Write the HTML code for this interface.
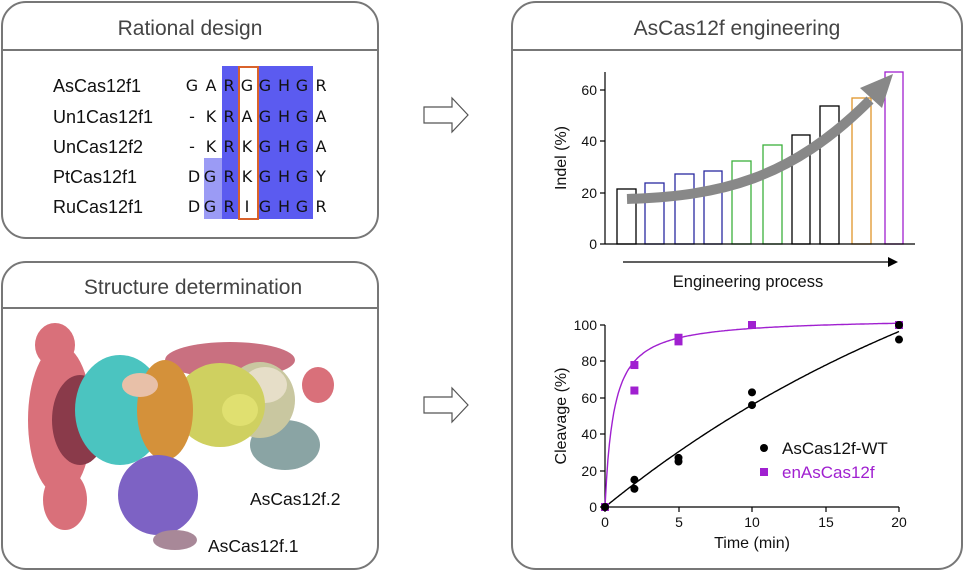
<!DOCTYPE html>
<html><head><meta charset="utf-8"><style>
html,body{margin:0;padding:0;background:#fff;}
svg{display:block;font-family:"Liberation Sans",Arial,sans-serif;}
</style></head><body>
<svg id="s" width="964" height="571" viewBox="0 0 964 571" xmlns="http://www.w3.org/2000/svg">
<!-- Panel 1 -->
<rect x="2" y="2" width="376" height="236" rx="24" fill="#fff" stroke="#777" stroke-width="2"/>
<line x1="2" y1="50" x2="378" y2="50" stroke="#777" stroke-width="2"/>
<text x="190" y="35" font-size="21" fill="#444" text-anchor="middle">Rational design</text>
<rect x="222" y="66" width="91" height="153" fill="#5b5bf0"/>
<rect x="204" y="158" width="18" height="61" fill="#9b9bf5"/>
<rect x="239" y="67" width="19" height="152" fill="#fff" stroke="#d9622b" stroke-width="2"/>
<g font-size="18" fill="#111">
<text x="53" y="92">AsCas12f1</text>
<text x="53" y="123">Un1Cas12f1</text>
<text x="53" y="153">UnCas12f2</text>
<text x="53" y="183">PtCas12f1</text>
<text x="53" y="213">RuCas12f1</text>
</g>
<g font-size="16" fill="#111" text-anchor="middle" font-family="DejaVu Sans,sans-serif">
<text x="192" y="91">G</text><text x="211" y="91">A</text><text x="229" y="91">R</text><text x="247" y="91">G</text><text x="265" y="91">G</text><text x="284" y="91">H</text><text x="302" y="91">G</text><text x="321" y="91">R</text>
<text x="192" y="122">-</text><text x="211" y="122">K</text><text x="229" y="122">R</text><text x="247" y="122">A</text><text x="265" y="122">G</text><text x="284" y="122">H</text><text x="302" y="122">G</text><text x="321" y="122">A</text>
<text x="192" y="152">-</text><text x="211" y="152">K</text><text x="229" y="152">R</text><text x="247" y="152">K</text><text x="265" y="152">G</text><text x="284" y="152">H</text><text x="302" y="152">G</text><text x="321" y="152">A</text>
<text x="194" y="182">D</text><text x="210" y="182">G</text><text x="229" y="182">R</text><text x="247" y="182">K</text><text x="265" y="182">G</text><text x="284" y="182">H</text><text x="302" y="182">G</text><text x="321" y="182">Y</text>
<text x="194" y="212">D</text><text x="210" y="212">G</text><text x="229" y="212">R</text><text x="247" y="212">I</text><text x="265" y="212">G</text><text x="284" y="212">H</text><text x="302" y="212">G</text><text x="321" y="212">R</text>
</g>
<!-- Panel 2 -->
<rect x="2" y="262" width="376" height="307" rx="24" fill="#fff" stroke="#777" stroke-width="2"/>
<line x1="2" y1="308" x2="378" y2="308" stroke="#777" stroke-width="2"/>
<text x="193" y="294" font-size="21" fill="#444" text-anchor="middle">Structure determination</text>
<g>
<ellipse cx="55" cy="345" rx="20" ry="22" fill="#d9707a"/>
<ellipse cx="60" cy="420" rx="32" ry="75" fill="#d9707a"/>
<ellipse cx="65" cy="500" rx="22" ry="30" fill="#d9707a"/>
<ellipse cx="80" cy="420" rx="28" ry="45" fill="#8a3a4a"/>
<ellipse cx="230" cy="360" rx="65" ry="18" fill="#c97080"/>
<ellipse cx="318" cy="385" rx="16" ry="18" fill="#d9707a"/>
<ellipse cx="285" cy="445" rx="35" ry="25" fill="#8aa4a4"/>
<ellipse cx="120" cy="410" rx="45" ry="55" fill="#4bc4c0"/>
<ellipse cx="260" cy="400" rx="35" ry="38" fill="#c9c7a0"/>
<ellipse cx="265" cy="385" rx="22" ry="18" fill="#e6dec8"/>
<ellipse cx="220" cy="405" rx="45" ry="42" fill="#cfd060"/>
<ellipse cx="240" cy="410" rx="18" ry="16" fill="#e0e070"/>
<ellipse cx="165" cy="410" rx="28" ry="50" fill="#d4913a"/>
<ellipse cx="140" cy="385" rx="18" ry="12" fill="#e8c0a8"/>
<ellipse cx="158" cy="495" rx="40" ry="40" fill="#7d62c4"/>
<ellipse cx="175" cy="540" rx="22" ry="10" fill="#a88898"/>
</g>
<text x="250" y="505" font-size="17.5" fill="#111">AsCas12f.2</text>
<text x="208" y="552" font-size="17.5" fill="#111">AsCas12f.1</text>
<!-- Arrows -->
<path d="M424 107 H452 V98 L468 115 L452 132 V123 H424 Z" fill="#fff" stroke="#555" stroke-width="1.2"/>
<path d="M424 397 H452 V388 L468 405 L452 422 V413 H424 Z" fill="#fff" stroke="#555" stroke-width="1.2"/>
<!-- Panel 3 -->
<rect x="512" y="2" width="450" height="567" rx="24" fill="#fff" stroke="#777" stroke-width="2"/>
<line x1="512" y1="50" x2="962" y2="50" stroke="#777" stroke-width="2"/>
<text x="737" y="35" font-size="21" fill="#444" text-anchor="middle">AsCas12f engineering</text>
<!-- bar chart -->
<g fill="#fff" stroke-width="1.3">
<rect x="617" y="189" width="19" height="55" stroke="#000"/>
<rect x="645" y="183" width="19" height="61" stroke="#2a2aa0"/>
<rect x="675" y="174" width="19" height="70" stroke="#2a2aa0"/>
<rect x="704" y="171" width="18" height="73" stroke="#2a2aa0"/>
<rect x="732" y="161" width="19" height="83" stroke="#3cb03c"/>
<rect x="763" y="145" width="19" height="99" stroke="#3cb03c"/>
<rect x="792" y="135" width="18" height="109" stroke="#000"/>
<rect x="820" y="106" width="19" height="138" stroke="#000"/>
<rect x="852" y="98" width="19" height="146" stroke="#e0952a"/>
<rect x="885" y="72" width="18" height="172" stroke="#a020d0"/>
</g>
<line x1="605" y1="72" x2="605" y2="244" stroke="#000" stroke-width="1.2"/>
<line x1="605" y1="244" x2="915" y2="244" stroke="#000" stroke-width="1.2"/>
<g stroke="#000" stroke-width="1.2"><line x1="600" y1="244" x2="605" y2="244"/><line x1="600" y1="193" x2="605" y2="193"/><line x1="600" y1="141" x2="605" y2="141"/><line x1="600" y1="90" x2="605" y2="90"/></g>
<g font-size="14" text-anchor="end" fill="#111"><text x="597" y="249">0</text><text x="597" y="198">20</text><text x="597" y="146">40</text><text x="597" y="95">60</text></g>
<text transform="translate(566,158) rotate(-90)" font-size="16" text-anchor="middle" fill="#111">Indel (%)</text>
<path d="M627 199 C 720 196, 790 180, 870 100" fill="none" stroke="#888" stroke-width="10"/>
<path d="M860 88 L893 74 L882 108 Z" fill="#888"/>
<line x1="623" y1="262" x2="893" y2="262" stroke="#000" stroke-width="1.3"/>
<path d="M898 262 L888 257 L888 267 Z" fill="#000"/>
<text x="748" y="287" font-size="16.5" text-anchor="middle" fill="#111">Engineering process</text>
<!-- cleavage chart -->
<line x1="605" y1="325" x2="605" y2="507" stroke="#000" stroke-width="1.2"/>
<line x1="605" y1="507" x2="899" y2="507" stroke="#000" stroke-width="1.2"/>
<g stroke="#000" stroke-width="1.2">
<line x1="600" y1="507" x2="605" y2="507"/><line x1="600" y1="471" x2="605" y2="471"/><line x1="600" y1="434" x2="605" y2="434"/><line x1="600" y1="398" x2="605" y2="398"/><line x1="600" y1="361" x2="605" y2="361"/><line x1="600" y1="325" x2="605" y2="325"/>
<line x1="605" y1="507" x2="605" y2="512"/><line x1="679" y1="507" x2="679" y2="512"/><line x1="752" y1="507" x2="752" y2="512"/><line x1="826" y1="507" x2="826" y2="512"/><line x1="899" y1="507" x2="899" y2="512"/>
</g>
<g font-size="14" text-anchor="end" fill="#111"><text x="597" y="512">0</text><text x="597" y="476">20</text><text x="597" y="439">40</text><text x="597" y="403">60</text><text x="597" y="366">80</text><text x="597" y="330">100</text></g>
<g font-size="14" text-anchor="middle" fill="#111"><text x="605" y="527">0</text><text x="679" y="527">5</text><text x="752" y="527">10</text><text x="826" y="527">15</text><text x="899" y="527">20</text></g>
<text x="752" y="548" font-size="16" text-anchor="middle" fill="#111">Time (min)</text>
<text transform="translate(566,416) rotate(-90)" font-size="16" text-anchor="middle" fill="#111">Cleavage (%)</text>
<path id="pc" fill="none" stroke="#a020d0" stroke-width="1.4"/>
<path id="bc" fill="none" stroke="#000" stroke-width="1.4"/>
<g id="pts"></g>
<circle cx="764" cy="448" r="4" fill="#000"/>
<text x="782" y="454" font-size="17" fill="#111">AsCas12f-WT</text>
<rect x="760" y="468" width="8" height="8" fill="#a020d0"/>
<text x="782" y="478" font-size="17" fill="#a020d0">enAsCas12f</text>
</svg>
<script>
var X=function(t){return 605+t*14.7},Y=function(v){return 507-v*1.82};
var p="",b="";
for(var i=0;i<=200;i++){var t=i/10;p+=(i?"L":"M")+X(t).toFixed(1)+" "+Y(104*t/(t+0.6)).toFixed(1);b+=(i?"L":"M")+X(t).toFixed(1)+" "+Y(200*(1-Math.exp(-0.0329*t))).toFixed(1);}
document.getElementById("pc").setAttribute("d",p);document.getElementById("bc").setAttribute("d",b);
var g="";
[[0,0],[2,78],[2,64],[5,93],[5,91],[10,100],[20,100]].forEach(function(a){g+='<rect x="'+(X(a[0])-4)+'" y="'+(Y(a[1])-4)+'" width="8" height="8" fill="#a020d0"/>';});
[[0,0],[2,15],[2,10],[5,27],[5,25],[10,63],[10,56],[20,100],[20,92]].forEach(function(a){g+='<circle cx="'+X(a[0])+'" cy="'+Y(a[1])+'" r="4" fill="#000"/>';});
document.getElementById("pts").innerHTML=g;
</script>
</body></html>
